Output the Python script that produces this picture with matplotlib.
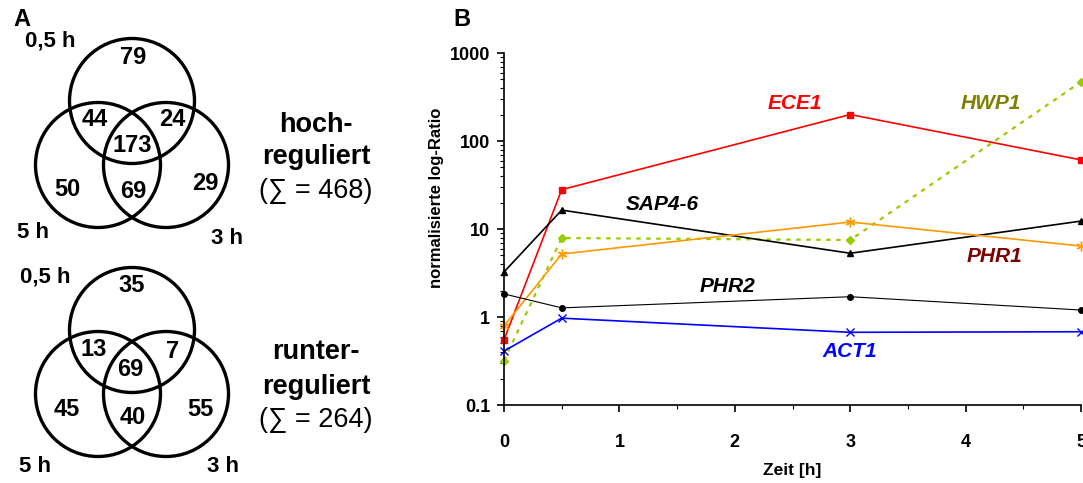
import matplotlib
matplotlib.use("Agg")
import matplotlib.pyplot as plt
from matplotlib.patches import Circle
from matplotlib.ticker import LogLocator, NullFormatter, FixedLocator

# --- data ---------------------------------------------------------------
zeit = [0, 0.5, 3, 5]
ece1 = [0.55, 28, 200, 61]
hwp1 = [0.32, 7.9, 7.5, 470]
sap46 = [3.25, 16.4, 5.3, 12.3]
phr1 = [0.79, 5.2, 12, 6.4]
phr2 = [1.83, 1.27, 1.7, 1.2]
act1 = [0.41, 0.97, 0.67, 0.68]

# Venn counts: only 0.5h, 0.5h&5h, 0.5h&3h, all, only 5h, 5h&3h, only 3h
venn_hoch = [79, 44, 24, 173, 50, 69, 29]
venn_runter = [35, 13, 7, 69, 45, 40, 55]
sum_hoch = 468
sum_runter = 264

W, H = 1083, 483
fig = plt.figure(figsize=(W / 100, H / 100), dpi=100)

sans = ["Liberation Sans", "DejaVu Sans"]
narrow = ["Liberation Sans Narrow", "Liberation Sans", "DejaVu Sans"]

# --- panel A: two Venn diagrams drawn in pixel coordinates ---------------
va = fig.add_axes([0, 0, 440 / W, 1])
va.set_xlim(0, 440)
va.set_ylim(H, 0)
va.axis("off")


def venn(ax, y0, counts, spots, labpos, titles, total, tpos):
    r = 62.5
    for cx, cy in [(132, y0), (98, y0 + 64), (166, y0 + 64)]:
        ax.add_patch(Circle((cx, cy), r, fill=False, lw=2.4, ec="black"))
    for (x, y), n in zip(spots, counts):
        ax.text(x, y, str(n), ha="center", va="center", fontsize=17,
                fontweight="bold", family=sans)
    for (x, y), t in zip(labpos, ["0,5 h", "5 h", "3 h"]):
        ax.text(x, y, t, ha="center", va="center", fontsize=16,
                fontweight="bold", family=sans)
    ax.text(316, tpos[0], titles[0], ha="center", va="center", fontsize=19.5,
            fontweight="bold", family=sans)
    ax.text(316, tpos[1], titles[1], ha="center", va="center", fontsize=19.5,
            fontweight="bold", family=sans)
    ax.text(316, tpos[2], "(\u2211 = %d)" % total, ha="center", va="center",
            fontsize=19.5, family=sans)


venn(va, 101, venn_hoch,
     [(133, 57), (95, 120), (172, 120), (132, 146), (67, 190), (133, 192), (205, 183)],
     [(50, 41), (33, 233), (227, 238)],
     ("hoch-", "reguliert"), sum_hoch, (125, 157, 191))
venn(va, 330, venn_runter,
     [(132, 286), (94, 350), (173, 352), (130, 370), (67, 410), (133, 417), (200, 410)],
     [(45, 277), (35, 467), (223, 466)],
     ("runter-", "reguliert"), sum_runter, (352, 387, 420))
va.text(22, 20, "A", ha="center", va="center", fontsize=17,
        fontweight="bold", family=sans)

# --- panel B: time course on log axis -----------------------------------
left, right, top, bottom = 504, 1081, 53, 405
ax = fig.add_axes([left / W, 1 - bottom / H, (right - left) / W, (bottom - top) / H])
ax.set_yscale("log")
ax.set_xlim(0, 5)
ax.set_ylim(0.1, 1000)

lw = 1.2
ax.plot(zeit, ece1, color="#FF0000", lw=lw, marker="s", ms=4, clip_on=False)
ax.plot(zeit, hwp1, color="#99CC00", lw=1.6, ls=(0, (2, 2.5)), marker="D", ms=4,
        clip_on=False)
ax.plot(zeit, sap46, color="black", lw=lw, marker="^", ms=5, clip_on=False)
ax.plot(zeit, phr1, color="#FF9900", lw=lw, marker=(6, 2, 0), ms=7, mew=1,
        clip_on=False)
ax.plot(zeit, phr2, color="black", lw=0.8, marker="o", ms=4, clip_on=False)
ax.plot(zeit, act1, color="#0000FF", lw=lw, marker="x", ms=6, mew=1,
        clip_on=False)

lab = dict(fontsize=15, fontweight="bold", style="italic", family=narrow,
           ha="center", va="center")
ax.text(2.52, 265, "ECE1", color="#FF0000", **lab)
ax.text(4.22, 265, "HWP1", color="#808000", **lab)
ax.text(1.37, 19, "SAP4-6", color="black", **lab)
ax.text(4.25, 4.9, "PHR1", color="#800000", **lab)
ax.text(1.94, 2.25, "PHR2", color="black", **lab)
ax.text(3.0, 0.41, "ACT1", color="#0000FF", **lab)

for s in ["top", "right"]:
    ax.spines[s].set_visible(False)
ax.spines["left"].set_linewidth(1.2)
ax.spines["bottom"].set_linewidth(1.2)

ax.yaxis.set_minor_locator(LogLocator(base=10, subs=range(2, 10), numticks=10))
ax.yaxis.set_minor_formatter(NullFormatter())
ax.set_yticks([0.1, 1, 10, 100, 1000])
ax.set_yticklabels(["0.1", "1", "10", "100", "1000"])
ax.set_xticks([0, 1, 2, 3, 4, 5])
ax.xaxis.set_minor_locator(FixedLocator([0.5, 1.5, 2.5, 3.5, 4.5]))

ax.tick_params(axis="both", which="major", direction="out", length=5, width=1.2)
ax.tick_params(axis="both", which="minor", direction="out", length=3, width=0.8)
ax.tick_params(axis="y", which="major", pad=5)
ax.tick_params(axis="x", which="major", pad=16)
for t in ax.get_xticklabels() + ax.get_yticklabels():
    t.set_fontweight("bold")
    t.set_fontsize(13)
    t.set_family(narrow)

ax.set_xlabel("Zeit [h]", fontsize=12.5, fontweight="bold", family=narrow)
ax.set_ylabel("normalisierte log-Ratio", fontsize=12, fontweight="bold",
              family=narrow)
ax.xaxis.set_label_coords(0.5, -0.165)
ax.yaxis.set_label_coords(-0.104, 0.59)

fig.text(462 / W, 1 - 20 / H, "B", ha="center", va="center", fontsize=17,
         fontweight="bold", family=sans)

fig.savefig("out.png", dpi=100)
